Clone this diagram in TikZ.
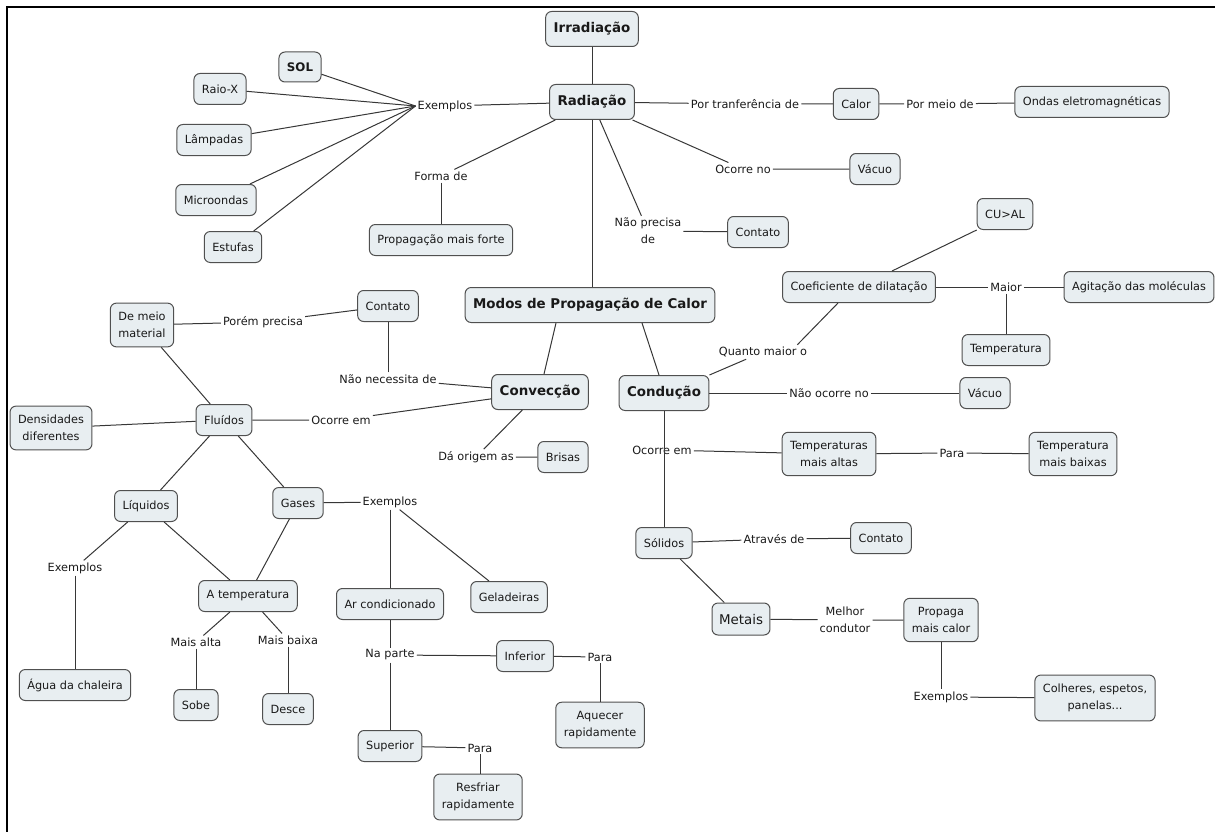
\documentclass[tikz,border=0pt]{standalone}
\usepackage{fontspec}
\setmainfont{DejaVu Sans}
\definecolor{boxfill}{RGB}{232,238,241}
\definecolor{boxline}{RGB}{80,80,80}
\definecolor{linkc}{RGB}{55,55,55}
\definecolor{txt}{RGB}{25,25,25}
\begin{document}
\begin{tikzpicture}[x=1pt,y=-1pt,
 concept/.style={draw=boxline, line width=1pt, fill=boxfill, rounded corners=6pt, inner xsep=8pt, inner ysep=9pt, minimum height=31pt, align=center, font=\fontsize{11.3}{17}\selectfont, text=txt},
 bigconcept/.style={concept, font=\fontsize{13.4}{17}\selectfont\bfseries, minimum height=35pt},
 phrase/.style={inner sep=2pt, align=center, font=\fontsize{11.3}{17}\selectfont, text=txt},
 link/.style={draw=linkc, line width=1pt}]
\useasboundingbox (0,0) rectangle (1215,832);
\draw[line width=2pt, black] (7,832) -- (7,7) -- (1215,7);

% --- top: Radiação
\node[bigconcept] (irr) at (592,29) {Irradiação};
\node[bigconcept] (rad) at (592,102) {Radiação};
\node[concept, font=\fontsize{11.8}{17}\selectfont\bfseries, minimum height=30pt] (sol) at (300,67) {SOL};
\node[concept] (raiox) at (220,89) {Raio-X};
\node[concept] (lamp) at (214,140) {Lâmpadas};
\node[concept] (micro) at (216,200) {Microondas};
\node[concept] (estufas) at (233,247) {Estufas};
\node[phrase] (ex1) at (445,106) {Exemplos};
\node[phrase] (forma) at (441,176) {Forma de};
\node[concept] (prop) at (441,240) {Propagação mais forte};
\node[phrase] (portrans) at (745,104) {Por tranferência de};
\node[concept] (calor) at (856,104) {Calor};
\node[phrase] (pormeio) at (940,104) {Por meio de};
\node[concept] (ondas) at (1092,102) {Ondas eletromagnéticas};
\node[phrase] (ocorreno) at (743,169) {Ocorre no};
\node[concept] (vacuo1) at (875,169) {Vácuo};
\node[phrase] (naoprec) at (648,231) {Não precisa\\de};
\node[concept] (contato1) at (758,232) {Contato};

% --- centre
\node[bigconcept] (modos) at (590,305) {Modos de Propagação de Calor};
\node[bigconcept] (conv) at (540,392) {Convecção};
\node[bigconcept] (cond) at (664,393) {Condução};

% --- right: Condução
\node[concept] (cual) at (1005,214) {CU>AL};
\node[concept] (coef) at (859,287) {Coeficiente de dilatação};
\node[phrase] (maior) at (1006,287) {Maior};
\node[concept] (agit) at (1139,287) {Agitação das moléculas};
\node[concept] (temp) at (1006,350) {Temperatura};
\node[phrase] (quanto) at (763,352) {Quanto maior o};
\node[phrase] (naoocorre) at (829,393) {Não ocorre no};
\node[concept] (vacuo2) at (985,393) {Vácuo};
\node[phrase] (ocorreem1) at (662,450) {Ocorre em};
\node[concept] (tempalt) at (829,454) {Temperaturas\\mais altas};
\node[phrase] (para1) at (952,453) {Para};
\node[concept] (tempbaix) at (1073,454) {Temperatura\\mais baixas};
\node[concept] (solidos) at (664,543) {Sólidos};
\node[phrase] (atraves) at (774,539) {Através de};
\node[concept] (contato2) at (881,538) {Contato};
\node[concept, font=\fontsize{13.4}{17}\selectfont, minimum height=32pt, inner xsep=7pt] (metais) at (741,619) {Metais};
\node[phrase] (melhor) at (845,620) {Melhor\\condutor};
\node[concept] (propaga) at (941,620) {Propaga\\mais calor};
\node[phrase] (ex3) at (941,697) {Exemplos};
\node[concept] (colheres) at (1095,698) {Colheres, espetos,\\panelas...};

% --- left: Convecção
\node[concept] (contato3) at (388,306) {Contato};
\node[concept] (demeio) at (142,325) {De meio\\material};
\node[phrase] (porem) at (263,322) {Porém precisa};
\node[phrase] (naonec) at (388,379) {Não necessita de};
\node[concept] (fluidos) at (224,420) {Fluídos};
\node[concept] (dens) at (51,428) {Densidades\\diferentes};
\node[phrase] (ocorreem2) at (341,420) {Ocorre em};
\node[concept] (liquidos) at (146,506) {Líquidos};
\node[concept] (gases) at (298,503) {Gases};
\node[phrase] (ex2) at (390,502) {Exemplos};
\node[concept] (arcond) at (390,604) {Ar condicionado};
\node[concept] (gelad) at (509,597) {Geladeiras};
\node[concept] (atemp) at (248,596) {A temperatura};
\node[phrase] (ex4) at (75,568) {Exemplos};
\node[concept] (agua) at (75,685) {Água da chaleira};
\node[phrase] (maisalta) at (196,642) {Mais alta};
\node[concept] (sobe) at (196,705) {Sobe};
\node[phrase] (maisbaixa) at (288,640) {Mais baixa};
\node[concept] (desce) at (288,709) {Desce};
\node[phrase] (naparte) at (390,655) {Na parte};
\node[concept] (inferior) at (525,656) {Inferior};
\node[phrase] (para2) at (600,657) {Para};
\node[concept] (aquecer) at (600,725) {Aquecer\\rapidamente};
\node[concept] (superior) at (390,746) {Superior};
\node[phrase] (para3) at (480,748) {Para};
\node[concept] (resfriar) at (478,797) {Resfriar\\rapidamente};
\node[phrase] (daorigem) at (476,457) {Dá origem as};
\node[concept] (brisas) at (563,457) {Brisas};

% --- connectors
\begin{scope}[link]
\draw (irr) -- (rad);
\draw (rad) -- (ex1);
\foreach \n in {sol,raiox,lamp,micro,estufas} \draw (\n) -- (ex1.west);
\draw (rad) -- (forma);
\draw (forma) -- (prop);
\draw (rad) -- (portrans) -- (calor) -- (pormeio) -- (ondas);
\draw (rad) -- (ocorreno) -- (vacuo1);
\draw (rad) -- (naoprec);
\draw (naoprec) -- (contato1);
\draw (rad.south) -- (rad.south |- modos.north);
\draw ([xshift=-34pt]modos.south) -- ([xshift=4pt]conv.north);
\draw ([xshift=52pt]modos.south) -- ([xshift=-5pt]cond.north);

\draw (cond.north east) -- (quanto);
\draw ([xshift=-12pt]quanto.north east) -- ([xshift=-21pt]coef.south);
\draw (cual.south west) -- ([xshift=33pt]coef.north);
\draw (coef) -- (maior) -- (agit);
\draw (maior) -- (temp);
\draw (cond) -- (naoocorre) -- (vacuo2);
\draw (cond.south) -- (cond.south |- solidos.north);
\draw (ocorreem1) -- (tempalt);
\draw (tempalt) -- (para1) -- (tempbaix);
\draw (solidos) -- (atraves) -- (contato2);
\draw (solidos) -- (metais);
\draw (metais) -- (melhor) -- (propaga);
\draw (propaga) -- (ex3);
\draw (ex3) -- (colheres);

\draw (conv) -- (naonec);
\draw (naonec) -- (contato3);
\draw (contato3) -- (porem) -- (demeio);
\draw (conv) -- (ocorreem2) -- (fluidos);
\draw (fluidos) -- (dens);
\draw (demeio) -- (fluidos);
\draw (fluidos) -- (liquidos);
\draw (fluidos) -- (gases);
\draw (gases) -- (ex2);
\draw (ex2) -- (arcond);
\draw (ex2) -- (gelad);
\draw (liquidos) -- (atemp);
\draw (gases) -- (atemp);
\draw (liquidos) -- (ex4);
\draw (ex4) -- (agua);
\draw (atemp) -- (maisalta);
\draw (maisalta) -- (sobe);
\draw (atemp) -- (maisbaixa);
\draw (maisbaixa) -- (desce);
\draw (arcond) -- (naparte);
\draw (naparte) -- (superior);
\draw (naparte) -- (inferior) -- (para2);
\draw (para2) -- (aquecer);
\draw (superior) -- (para3);
\draw (para3) -- (para3 |- resfriar.north);
\draw (conv) -- (daorigem) -- (brisas);
\end{scope}
\end{tikzpicture}
\end{document}
